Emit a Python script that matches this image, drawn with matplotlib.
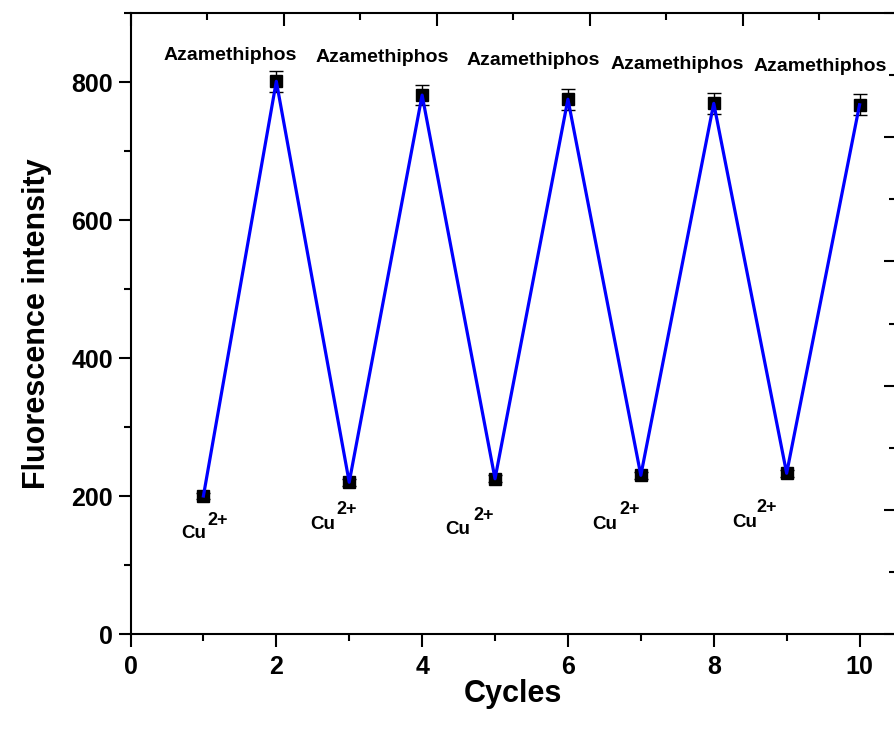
import numpy as np
import matplotlib.pyplot as plt
from matplotlib.ticker import MultipleLocator

plt.rcParams['font.family'] = ['Liberation Sans', 'DejaVu Sans']
plt.rcParams['font.weight'] = 'bold'

# data
cycles = [1, 2, 3, 4, 5, 6, 7, 8, 9, 10]
intensity = [200, 801, 220, 781, 225, 775, 230, 769, 233, 767]
errors = [5, 15, 5, 15, 5, 15, 5, 15, 5, 15]

# label anchors (data coords)
aza_x = [1.37, 3.45, 5.53, 7.50, 9.46]
aza_y = [838, 835, 831, 825, 822]
cu_x = [0.86, 2.63, 4.49, 6.51, 8.42]
cu_y = [146, 159, 152, 159, 162]
sup_x = [1.19, 2.97, 4.84, 6.84, 8.73]
sup_y = [165, 180, 172, 180, 183]

fig = plt.figure(figsize=(8.94, 7.31), dpi=100)
pos = [130.5 / 894, 97 / 731, (896 - 130.5) / 894, (634 - 13) / 731]
ax = fig.add_axes(pos)

ax.errorbar(cycles, intensity, yerr=errors, fmt='s', color='black',
            markersize=9, capsize=5, elinewidth=1, capthick=1, zorder=3)
ax.plot(cycles, intensity, color='blue', lw=2.3, zorder=4)

ax.set_xlim(0, 10.5)
ax.set_ylim(0, 900)
ax.xaxis.set_major_locator(MultipleLocator(2))
ax.xaxis.set_minor_locator(MultipleLocator(1))
ax.yaxis.set_major_locator(MultipleLocator(200))
ax.yaxis.set_minor_locator(MultipleLocator(100))
ax.tick_params(which='major', direction='out', length=9, width=1.5, labelsize=18)
ax.tick_params(which='minor', direction='out', length=5, width=1.5)
ax.tick_params(axis='x', pad=6)
for s in ax.spines.values():
    s.set_linewidth(1.5)
for lab in ax.get_xticklabels() + ax.get_yticklabels():
    lab.set_fontweight('bold')

ax.set_xlabel('Cycles', fontsize=22, fontweight='bold', labelpad=0)
ax.set_ylabel('Fluorescence intensity', fontsize=22, fontweight='bold', labelpad=14)

for x, y in zip(aza_x, aza_y):
    ax.text(x, y, 'Azamethiphos', fontsize=14, fontweight='bold',
            ha='center', va='center')
for x, y in zip(cu_x, cu_y):
    ax.text(x, y, 'Cu', fontsize=13.5, fontweight='bold', ha='center', va='center')
for x, y in zip(sup_x, sup_y):
    ax.text(x, y, '2+', fontsize=13, fontweight='bold', ha='center', va='center')

# mirror ticks on top and right (inward, no labels)
ax2 = fig.add_axes(pos, frameon=False)
ax2.set_xlim(0, 10)
ax2.set_ylim(0, 10)
ax2.patch.set_visible(False)
ax2.xaxis.set_major_locator(MultipleLocator(2))
ax2.xaxis.set_minor_locator(MultipleLocator(1))
ax2.yaxis.set_major_locator(MultipleLocator(2))
ax2.yaxis.set_minor_locator(MultipleLocator(1))
ax2.tick_params(which='both', direction='in', top=True, right=True,
                bottom=False, left=False, labeltop=False, labelright=False,
                labelbottom=False, labelleft=False, width=1.5)
ax2.tick_params(which='major', length=9)
ax2.tick_params(which='minor', length=5)

fig.savefig('out.png', dpi=100)
